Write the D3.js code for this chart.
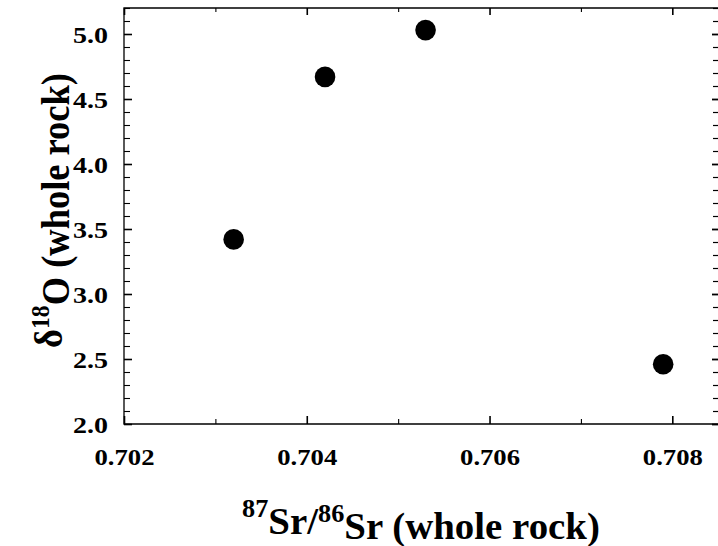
<!DOCTYPE html>
<html><head><meta charset="utf-8">
<script src="https://cdn.jsdelivr.net/npm/d3@7"></script>
<style>
html,body{margin:0;padding:0;background:#fff;}
text{font-family:"Liberation Serif","Times New Roman",serif;font-weight:bold;fill:#000;}
</style></head>
<body><svg id="c" width="718" height="546"></svg>
<script>
const srRatio = [0.7032, 0.7042, 0.7053, 0.7079];
const d18O = [3.42, 4.67, 5.03, 2.46];
const xMajor = [0.702, 0.704, 0.706, 0.708];
const xMinor = [0.703, 0.705, 0.707];
const yMajor = [2.0, 2.5, 3.0, 3.5, 4.0, 4.5, 5.0];
const yMinor = [2.1, 2.2, 2.3, 2.4, 2.6, 2.7, 2.8, 2.9, 3.1, 3.2, 3.3, 3.4, 3.6, 3.7, 3.8, 3.9,
                4.1, 4.2, 4.3, 4.4, 4.6, 4.7, 4.8, 4.9, 5.1, 5.2];

const W = 718, H = 546;
const m = {l: 124, t: 8, r: 0, b: 122};
const svg = d3.select("#c");
const x = d3.scaleLinear().domain([0.702, 0.7085]).range([m.l, W - m.r]);
const y = d3.scaleLinear().domain([2.0, 5.2]).range([H - m.b, m.t]);

const g = svg.append("g");
function ticks(axis, tr, size, vals, sw){
  const a = g.append("g").attr("transform", tr).call(axis.tickValues(vals).tickSize(size).tickFormat(""));
  a.select(".domain").remove();
  a.selectAll("line").attr("stroke", "#000").attr("stroke-width", sw);
}
ticks(d3.axisBottom(x), `translate(0,${H-m.b})`, -8, xMajor, 1.6);
ticks(d3.axisBottom(x), `translate(0,${H-m.b})`, -5, xMinor, 1.1);
ticks(d3.axisTop(x), `translate(0,${m.t})`, -7, xMajor, 1.6);
ticks(d3.axisTop(x), `translate(0,${m.t})`, -4, xMinor, 1.1);
ticks(d3.axisLeft(y), `translate(${m.l},0)`, -8, yMajor, 1.6);
ticks(d3.axisLeft(y), `translate(${m.l},0)`, -6, yMinor, 1.1);
ticks(d3.axisRight(y), `translate(${W},0)`, -6, yMajor, 1.8);
ticks(d3.axisRight(y), `translate(${W},0)`, -5, yMinor, 1.2);

g.append("path")
  .attr("d", `M${W},${m.t}H${m.l}V${H-m.b}H${W}`)
  .attr("fill", "none").attr("stroke", "#000").attr("stroke-width", 1.3);

function fitWidth(textSel, target){
  const w = textSel.node().getBBox().width;
  return w > 0 ? target / w : 1;
}

// x tick labels
const xl = g.append("g").attr("transform", `translate(0,${H-m.b})`)
  .call(d3.axisBottom(x).tickValues(xMajor).tickSize(0).tickFormat(d3.format(".3f")));
xl.select(".domain").remove();
xl.attr("font-size", 23).attr("font-family", null);
xl.selectAll("text").attr("dy", 0).attr("y", 0).attr("x", 0);
const sxX = fitWidth(xl.select(".tick text"), 60);
xl.selectAll("text").attr("transform", `translate(0,41) scale(${sxX},1)`);

// y tick labels
const yl = g.append("g").attr("transform", `translate(${m.l},0)`)
  .call(d3.axisLeft(y).tickValues(yMajor).tickSize(0).tickFormat(d3.format(".1f")));
yl.select(".domain").remove();
yl.attr("font-size", 24).attr("font-family", null);
yl.selectAll("text").attr("x", 0).attr("dy", "0.37em");
const sxY = fitWidth(yl.select(".tick text"), 35);
yl.selectAll("text").attr("transform", `translate(-16,0) scale(${sxY},1)`);

// points
g.append("g").selectAll("circle").data(srRatio).join("circle")
  .attr("cx", d => x(d)).attr("cy", (d, i) => y(d18O[i])).attr("r", 10.3).attr("fill", "#000");

// x title
const xt = g.append("text").attr("text-anchor", "middle").attr("font-size", 37);
xt.append("tspan").text("87").attr("dy", "-0.46em").attr("font-size", 25);
xt.append("tspan").text("Sr/").attr("dy", "0.46em");
xt.append("tspan").text("86").attr("dy", "-0.46em").attr("font-size", 25);
xt.append("tspan").text("Sr (whole rock)").attr("dy", "0.46em");
const sxT = fitWidth(xt, 358);
xt.attr("transform", `translate(${(m.l + W - m.r) / 2},528) scale(${sxT},1)`);

// y title
const yt = g.append("text").attr("text-anchor", "middle").attr("font-size", 40);
yt.append("tspan").text("δ");
yt.append("tspan").text("18").attr("dy", "-0.5em").attr("font-size", 26);
yt.append("tspan").text("O (whole rock)").attr("dy", "0.5em");
const syT = fitWidth(yt, 275);
yt.attr("transform", `translate(62,${(73 + 348) / 2}) rotate(-90) scale(${syT},1)`);
</script></body></html>
